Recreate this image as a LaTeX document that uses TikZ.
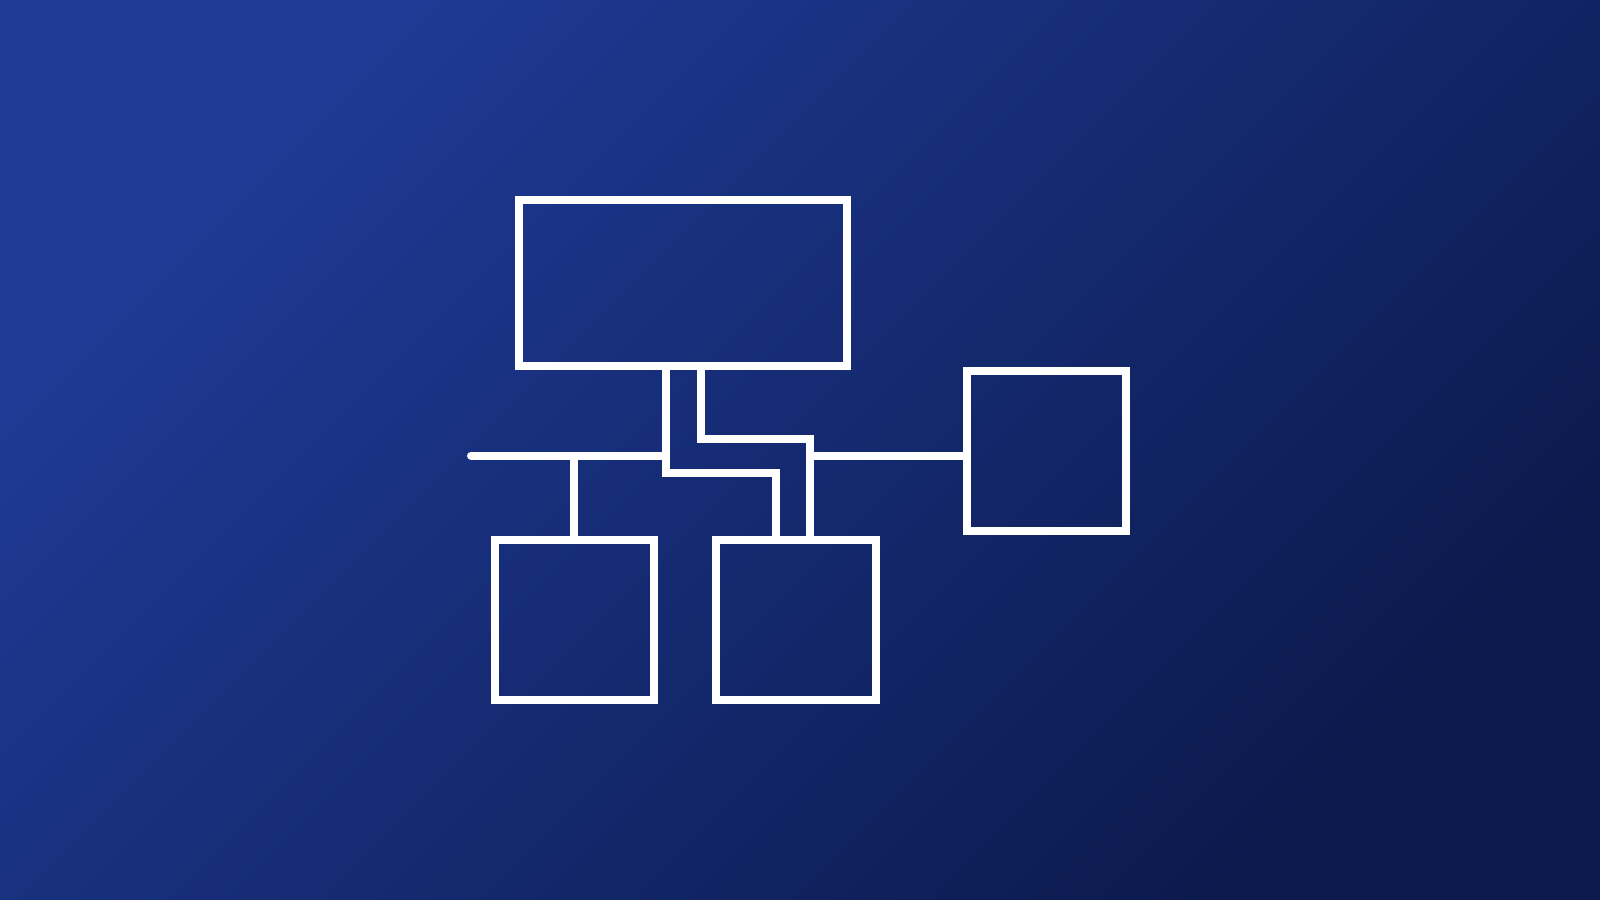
\documentclass[tikz,border=0pt]{standalone}
\usetikzlibrary{positioning}
\definecolor{bgA}{RGB}{31,59,150}
\definecolor{bgB}{RGB}{11,25,76}
\tikzset{
	box/.style={draw=white, line width=0.08cm, inner sep=0pt, outer sep=0pt, minimum width=1.59cm, minimum height=1.59cm},
	wire/.style={draw=white, line width=0.08cm}
}
\begin{document}
\begin{tikzpicture}[x=0.01cm,y=-0.01cm]
				\shade[left color=bgA, right color=bgB, shading angle=45] (0,0) rectangle (1600,900);
				\useasboundingbox (0,0) rectangle (1600,900);
				%
				\node[box, minimum width=3.28cm, minimum height=1.66cm] (main) at (683,283) {};
				\node[box] (east) at (1046.5,451) {};
				\node[box] (left) at (574.5,620) {};
				\node[box] (right) at (796,620) {};
				%
				\coordinate (a0) at (471,455.5);
				\coordinate (a1) at (666,455.5);
				\coordinate (b1) at (666,472.5);
				\coordinate (b2) at (776,472.5);
				\coordinate (c1) at (700.5,438.5);
				\coordinate (c2) at (810,438.5);
				\coordinate (d1) at (574,455.5);
				\coordinate (d2) at (810,455.5);
				%
				\draw[wire, line cap=round] (a0) -- (a1);
				\draw[wire] (d1) -- (d1 |- left.north);
				\draw[wire] (main.south -| b1) -- (b1) -- (b2) -- (b2 |- right.north);
				\draw[wire] (main.south -| c1) -- (c1) -- (c2) -- (c2 |- right.north);
				\draw[wire] (d2) -- (d2 -| east.west);
			\end{tikzpicture}
\end{document}
